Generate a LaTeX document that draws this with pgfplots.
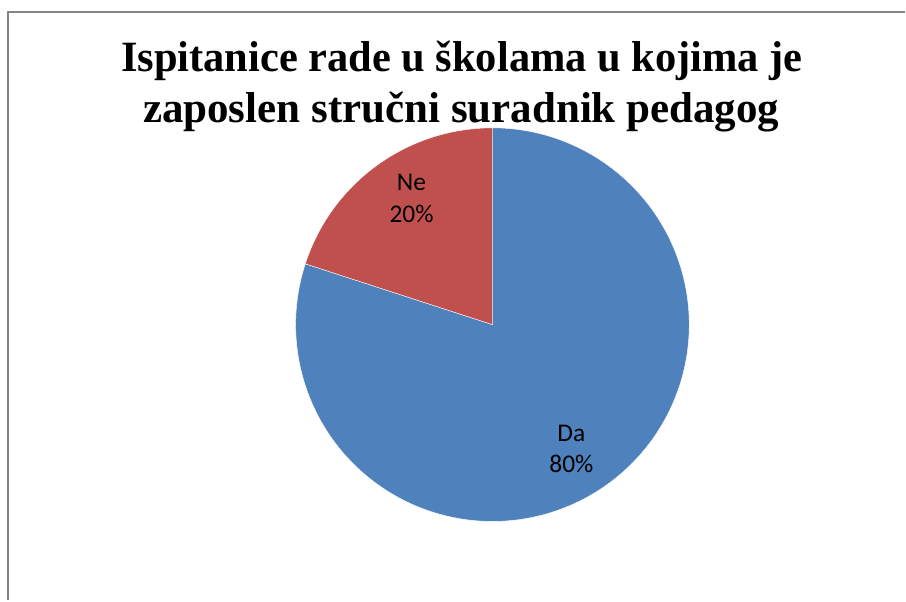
\documentclass[border=0pt]{standalone}
\usepackage{fontspec}
\setmainfont{Liberation Serif}
\newfontfamily\calibri{Carlito}
\usepackage{graphicx}
\usepackage{pgfplots}
\pgfplotsset{compat=1.18}
\definecolor{pieblue}{RGB}{79,129,189}
\definecolor{piered}{RGB}{192,80,77}
\definecolor{bordergray}{RGB}{134,134,134}
% data (percent)
\def\valDa{80}
\def\valNe{20}
\begin{document}
\begin{tikzpicture}
\begin{axis}[
  hide axis,
  x=1pt, y=1pt,
  xmin=0, xmax=906, ymin=0, ymax=601,
  enlargelimits=false,
  clip=false,
]
\path (axis cs:0,0) rectangle (axis cs:906,601);
% chart border (only top and left visible)
\draw[bordergray, line width=2pt] (axis cs:8,0) -- (axis cs:8,589) -- (axis cs:906,589);
% pie slices: start at 12 o'clock, clockwise
\pgfmathsetmacro{\aStart}{90}
\pgfmathsetmacro{\aDa}{90-3.6*\valDa}
\pgfmathsetmacro{\aNe}{\aDa-3.6*\valNe}
\addplot[fill=pieblue, draw=white, line width=0.4pt, domain=\aDa:\aStart, samples=240]
  ({493+197*cos(x)},{276+197*sin(x)}) -- (axis cs:493,276) -- cycle;
\addplot[fill=piered, draw=white, line width=0.4pt, domain=\aNe:\aDa, samples=80]
  ({493+197*cos(x)},{276+197*sin(x)}) -- (axis cs:493,276) -- cycle;
% data labels
\node[anchor=base, inner sep=0pt, font=\calibri\fontsize{25.5}{30}\selectfont] at (axis cs:412,410) {Ne};
\node[anchor=base, inner sep=0pt, font=\calibri\fontsize{25.5}{30}\selectfont] at (axis cs:412,378) {\valNe\%};
\node[anchor=base, inner sep=0pt, font=\calibri\fontsize{25.5}{30}\selectfont] at (axis cs:572,159) {Da};
\node[anchor=base, inner sep=0pt, font=\calibri\fontsize{25.5}{30}\selectfont] at (axis cs:572,128) {\valDa\%};
% title
\node[anchor=base west, inner sep=0pt] at (axis cs:121,529)
  {\resizebox{682pt}{30.5pt}{\bfseries Ispitanice rade u školama u kojima je}};
\node[anchor=base west, inner sep=0pt] at (axis cs:143,478)
  {\resizebox{637pt}{30.5pt}{\bfseries zaposlen stručni suradnik pedagog}};
\end{axis}
\end{tikzpicture}
\end{document}
